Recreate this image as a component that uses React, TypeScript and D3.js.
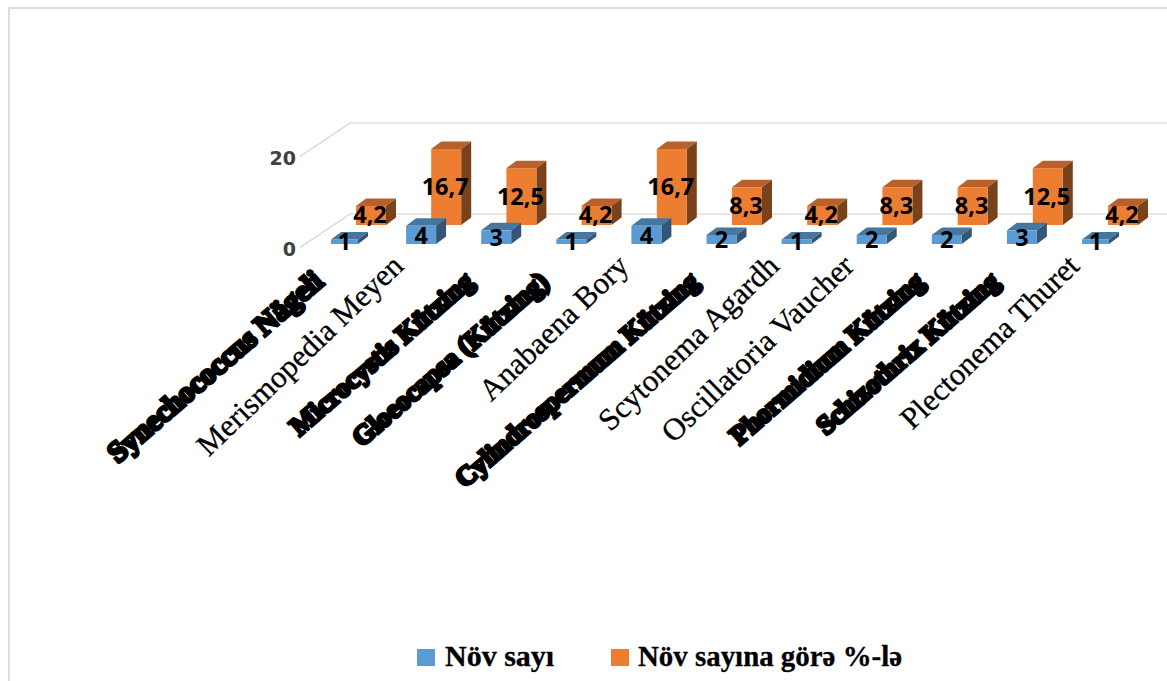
import React from "react";
import * as d3 from "d3";

const categories = [
  "Synechococcus Nägeli",
  "Merismopedia Meyen",
  "Microcystis Kützing",
  "Gloeocapsa (Kützing)",
  "Anabaena Bory",
  "Cylindrospermum Kützing",
  "Scytonema Agardh",
  "Oscillatoria Vaucher",
  "Phormidium Kützing",
  "Schizothrix Kützing",
  "Plectonema Thuret",
];
const heavyLabels = [true, false, true, true, false, true, false, false, true, true, false];
const speciesCount = [1, 4, 3, 1, 4, 2, 1, 2, 2, 3, 1];
const speciesShare = [4.2, 16.7, 12.5, 4.2, 16.7, 8.3, 4.2, 8.3, 8.3, 12.5, 4.2];
const yTicks = [0, 20];
const seriesNames = ["Növ sayı", "Növ sayına görə %-lə"];

const W = 1167;
const H = 681;
const pxPerUnit = 4.55;

const xBlue = d3.scaleLinear().domain([0, 10]).range([331, 1082]);
const xOrange = d3.scaleLinear().domain([0, 10]).range([356, 1108]);
const hScale = d3.scaleLinear().domain([0, 20]).range([0, 20 * pxPerUnit]);
const fmt = (v: number) => String(v).replace(".", ",");

type BarProps = {
  x: number; base: number; w: number; h: number; dx: number; dy: number;
  front: string; top: string; side: string;
};

// A box in oblique projection: front face, top face and right side.
function Bar({ x, base, w, h, dx, dy, front, top, side }: BarProps) {
  const y = base - h;
  return (
    <g>
      <path d={`M${x},${y}L${x + dx},${y - dy}L${x + w + dx},${y - dy}L${x + w},${y}Z`} fill={top} />
      <path d={`M${x + w},${y}L${x + w + dx},${y - dy}L${x + w + dx},${base - dy}L${x + w},${base}Z`} fill={side} />
      <rect x={x} y={y} width={w} height={h} fill={front} />
    </g>
  );
}

const blueWidth = (i: number) => (i === 0 || i === 10 ? 27 : 30);

export default function App() {
  return (
    <svg
      width={W}
      height={H}
      style={{ position: "absolute", left: 0, top: 0, background: "#fff" }}
      fontFamily="'Liberation Serif', serif"
    >
      {/* chart frame */}
      <path d={`M9,${H}V8H${W}`} fill="none" stroke="#dedede" strokeWidth={2} />

      {/* back wall gridlines and the oblique floor and wall edges */}
      {yTicks.map((t) => {
        const yBack = 214 - hScale(t);
        return (
          <g key={t}>
            <path d={`M300,${yBack + 33.5}L350,${yBack}H${W}`} fill="none" stroke="#d0d0d0" strokeWidth={1.2} />
            <text
              x={296}
              y={yBack + 41.5}
              textAnchor="end"
              fontFamily="'DejaVu Sans', sans-serif"
              fontWeight="bold"
              fontSize={19}
              fill="#404040"
            >
              {t}
            </text>
          </g>
        );
      })}

      {/* orange series stands behind the blue one */}
      {speciesShare.map((v, i) => (
        <Bar key={i} x={xOrange(i)} base={225} w={30} h={hScale(v)} dx={10} dy={7.5}
          front="#ed7d31" top="#b8612a" side="#7a421b" />
      ))}
      {speciesCount.map((v, i) => (
        <Bar key={i} x={xBlue(i)} base={244} w={blueWidth(i)} h={hScale(v)} dx={10} dy={7.5}
          front="#5b9bd5" top="#47779f" side="#335677" />
      ))}

      {/* value labels */}
      <g fontFamily="'Open Sans', 'DejaVu Sans', sans-serif" fontWeight="700" fontSize={23.5} fill="#000" textAnchor="middle">
        {speciesShare.map((v, i) => (
          <text key={i} x={xOrange(i) + 14} y={225 - hScale(v) / 2 + 8}>{fmt(v)}</text>
        ))}
        {speciesCount.map((v, i) => (
          <text key={i} x={xBlue(i) + blueWidth(i) / 2} y={251.5 - 2 * v}>{v}</text>
        ))}
      </g>

      {/* category labels, anchored at their upper right end */}
      {categories.map((c, i) =>
        heavyLabels[i] ? (
          <text
            key={c}
            transform={`translate(${xBlue(i) - 6},${284}) rotate(-41)`}
            textAnchor="end"
            fontSize={i === 0 ? 29.5 : 27}
            fontWeight="bold"
            stroke="#000"
            strokeWidth={3.2}
            fill="#000"
          >
            {c}
          </text>
        ) : (
          <text
            key={c}
            transform={`translate(${xBlue(i) - 1},${268}) rotate(-44)`}
            textAnchor="end"
            fontSize={31}
            stroke="#000"
            strokeWidth={0.3}
            fill="#000"
          >
            {c}
          </text>
        )
      )}

      {/* legend */}
      <g fontSize={30} fontWeight="bold" fill="#000" stroke="#000" strokeWidth={0.3}>
        <rect x={417} y={649} width={18} height={17} fill="#5b9bd5" stroke="none" />
        <text x={445} y={666}>{seriesNames[0]}</text>
        <rect x={611} y={649} width={18} height={17} fill="#ed7d31" stroke="none" />
        <text x={638} y={666} textLength={264} lengthAdjust="spacingAndGlyphs">{seriesNames[1]}</text>
      </g>
    </svg>
  );
}
